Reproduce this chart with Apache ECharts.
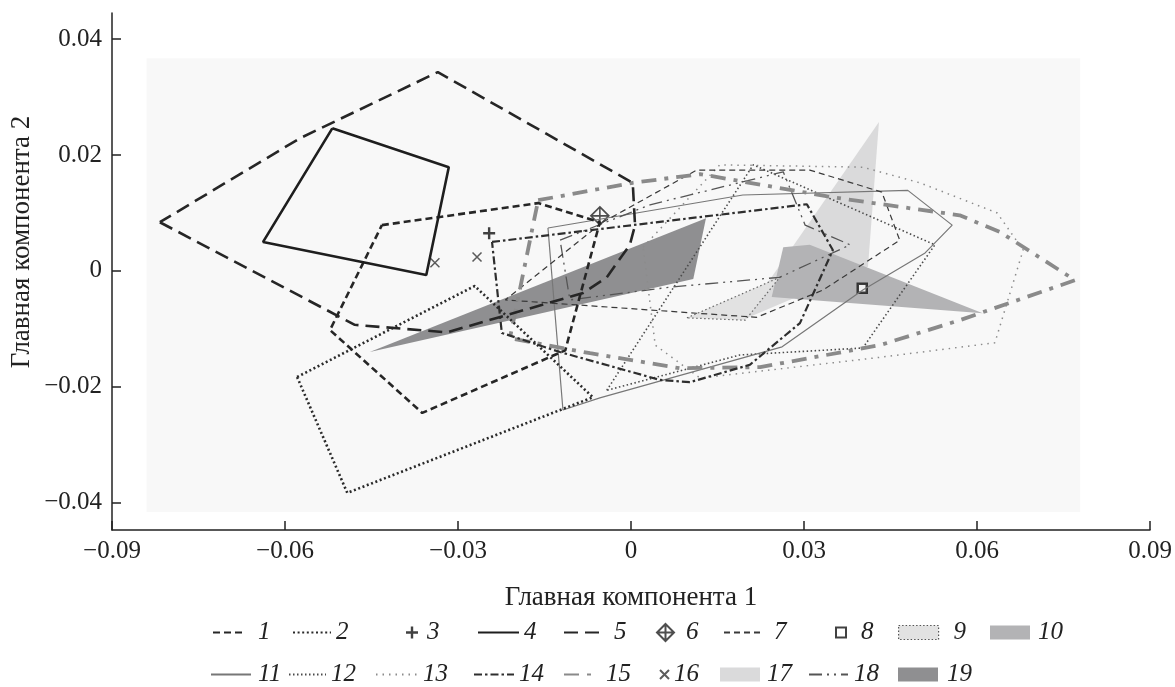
<!DOCTYPE html>
<html>
<head>
<meta charset="utf-8">
<script src="https://cdn.jsdelivr.net/npm/echarts@6/dist/echarts.min.js"></script>
<style>
html, body { margin: 0; background: #fff; }
#chart { width: 1175px; height: 687px; }
</style>
</head>
<body>
<div id="chart"></div>
<script>
// tick labels
const xTicks = [-0.09, -0.06, -0.03, 0, 0.03, 0.06, 0.09]
const yTicks = [-0.04, -0.02, 0, 0.02, 0.04]

// group contours (principal component 1 / 2)
const x1 = [-0.0432, -0.0161, -0.0054, -0.0114, -0.0362, -0.0522]
const y1 = [0.0079, 0.0117, 0.0084, -0.0137, -0.0245, -0.0102]
const x2 = [-0.0579, -0.0271, -0.0066, -0.0492]
const y2 = [-0.0183, -0.0026, -0.0218, -0.0383]
const x3 = [-0.0246]
const y3 = [0.0065]
const x4 = [-0.0518, -0.0316, -0.0355, -0.0638]
const y4 = [0.0246, 0.0179, -0.0007, 0.0050]
const x5 = [-0.0817, -0.0479, -0.0319, -0.0083, -0.0042, -0.0002, 0.0007, 0.0003, -0.0335, -0.0574]
const y5 = [0.0084, -0.0093, -0.0106, -0.0038, -0.0011, 0.0045, 0.0079, 0.0152, 0.0343, 0.0229]
const x6 = [-0.0054]
const y6 = [0.0095]
const x7 = [-0.0049, 0.0114, 0.0310, 0.0435, 0.0466, 0.0333, 0.0218, 0.0114, -0.0218]
const y7 = [0.0084, 0.0174, 0.0174, 0.0136, 0.0053, -0.0033, -0.0080, -0.0073, -0.0050]
const x8 = [0.0401]
const y8 = [-0.0030]
const x9 = [0.0097, 0.0258, 0.0198]
const y9 = [-0.0081, -0.0011, -0.0085]
const x10 = [0.0264, 0.0310, 0.0610, 0.0244]
const y10 = [0.0041, 0.0045, -0.0073, -0.0045]
const x11 = [-0.0144, 0.0194, 0.0480, 0.0557, 0.0510, 0.0402, 0.0262, -0.0054, -0.0118]
const y11 = [0.0074, 0.0131, 0.0139, 0.0079, 0.0031, -0.0033, -0.0131, -0.0219, -0.0240]
const x12 = [-0.0042, 0.0212, 0.0527, 0.0432, 0.0402, 0.0189]
const y12 = [-0.0206, 0.0183, 0.0045, -0.0090, -0.0133, -0.0145]
const x13 = [0.0021, 0.0154, 0.0402, 0.0501, 0.0635, 0.0680, 0.0631, 0.0432, 0.0120, 0.0042]
const y13 = [0.0041, 0.0183, 0.0179, 0.0152, 0.0100, 0.0036, -0.0124, -0.0149, -0.0185, -0.0128]
const x14 = [-0.0241, 0.0305, 0.0350, 0.0293, 0.0206, 0.0102, 0.0050, -0.0123, -0.0224]
const y14 = [0.0050, 0.0115, 0.0036, -0.0090, -0.0162, -0.0192, -0.0188, -0.0140, -0.0107]
const x15 = [-0.0161, 0.0003, 0.0120, 0.0350, 0.0570, 0.0640, 0.0770, 0.0570, 0.0432, 0.0224, 0.0085, -0.0071, -0.0210]
const y15 = [0.0122, 0.0152, 0.0167, 0.0127, 0.0096, 0.0067, -0.0016, -0.0085, -0.0128, -0.0166, -0.0168, -0.0142, -0.0116]
const x16 = [-0.0340, -0.0267]
const y16 = [0.0014, 0.0024]
const x17 = [0.0430, 0.0411, 0.0192]
const y17 = [0.0257, 0.0007, -0.0085]
const x18 = [-0.0123, 0.0033, 0.0264, 0.0302, 0.0380, 0.0258, 0.0068, -0.0106]
const y18 = [0.0053, 0.0114, 0.0171, 0.0079, 0.0045, -0.0011, -0.0028, -0.0050]
const x19 = [-0.0453, 0.0130, 0.0108]
const y19 = [-0.0140, 0.0091, -0.0014]

const FONT = 'Liberation Serif'
const zip = (xs, ys) => xs.map((x, i) => [x, ys[i]])
const closed = (xs, ys) => zip(xs, ys).concat([[xs[0], ys[0]]])

function contour(name, xs, ys, color, width, dash) {
  return {
    name,
    type: 'line',
    data: closed(xs, ys),
    symbol: 'none',
    silent: true,
    lineStyle: { color, width, type: dash || 'solid' },
    itemStyle: { color }
  }
}

function patch(name, xs, ys, color, border) {
  return {
    name,
    type: 'custom',
    data: zip(xs, ys),
    silent: true,
    itemStyle: { color },
    renderItem(params, api) {
      if (params.dataIndex !== 0) return null
      const points = xs.map((x, i) => api.coord([x, ys[i]]))
      const style = { fill: color }
      if (border) {
        style.stroke = border
        style.lineWidth = 1.2
        style.lineDash = [1.5, 2.5]
      }
      return { type: 'polygon', shape: { points }, style }
    }
  }
}

function marker(name, xs, ys, symbol, size, itemStyle) {
  return {
    name,
    type: 'scatter',
    data: zip(xs, ys),
    symbol,
    symbolSize: size,
    silent: true,
    itemStyle
  }
}

// legend placement: name, left, row, icon width, icon height, extra text gap
const legendLayout = [
  ['1', 212, 0, 30, 14, 10], ['2', 292, 0, 38, 14, 0], ['3', 406, 0, 12, 12, 4],
  ['4', 477, 0, 41, 14, 0], ['5', 563, 0, 37, 14, 8], ['6', 656, 0, 17, 17, 7],
  ['7', 723, 0, 37, 14, 8], ['8', 835, 0, 10, 10, 10], ['9', 898, 0, 40, 14, 10],
  ['10', 990, 0, 40, 14, 3],
  ['11', 210, 1, 40, 14, 2], ['12', 288, 1, 37, 14, 0], ['13', 375, 1, 42, 14, 0],
  ['14', 473, 1, 40, 14, 0], ['15', 563, 1, 30, 14, 7], ['16', 659, 1, 9, 9, 0],
  ['17', 720, 1, 40, 14, 2], ['18', 808, 1, 39, 14, 1], ['19', 898, 1, 40, 14, 4]
]
const rowTop = [620, 662]
const patchNames = ['9', '10', '17', '19']
const markerNames = ['3', '6', '8', '16']

const legends = legendLayout.map(([name, left, row, w, h, gap]) => {
  const item = { name }
  if (name === '9') {
    item.itemStyle = { color: '#e2e2e2', borderColor: '#555', borderWidth: 1.2, borderType: [1.5, 2] }
  } else if (!patchNames.includes(name) && !markerNames.includes(name)) {
    // line series: keep only the line sample, hide the default symbol
    item.itemStyle = { color: 'rgba(0,0,0,0)', borderColor: 'rgba(0,0,0,0)', borderWidth: 0, opacity: 0 }
  }
  return {
    data: [item],
    left,
    top: rowTop[row],
    itemWidth: w,
    itemHeight: h,
    icon: patchNames.includes(name) ? 'rect' : undefined,
    selectedMode: false,
    padding: 0,
    textStyle: {
      fontFamily: FONT,
      fontStyle: 'italic',
      fontSize: 25,
      color: '#222',
      padding: [0, 0, 0, gap]
    }
  }
})

const tickFmt = (v) => (v === 0 ? '0' : v.toFixed(2).replace('-', '\u2212'))

const option = {
  animation: false,
  backgroundColor: '#fff',
  grid: { left: 112, right: 25, top: 13, bottom: 157, outerBoundsMode: 'none' },
  legend: legends,
  graphic: [{
    type: 'text',
    x: 22,
    y: 242,
    rotation: Math.PI / 2,
    style: {
      text: 'Главная компонента 2',
      fontFamily: FONT,
      fontSize: 27,
      fill: '#222',
      align: 'center',
      verticalAlign: 'middle'
    }
  }],
  xAxis: {
    type: 'value',
    min: -0.09,
    max: 0.09,
    interval: 0.03,
    name: 'Главная компонента 1',
    nameLocation: 'middle',
    nameGap: 54,
    nameTextStyle: { fontFamily: FONT, fontSize: 27, color: '#222' },
    axisLine: { onZero: false, lineStyle: { color: '#222', width: 1.5 } },
    axisTick: { inside: true, length: 9, lineStyle: { color: '#222', width: 1.5 }, customValues: xTicks },
    axisLabel: { customValues: xTicks, formatter: tickFmt, fontFamily: FONT, fontSize: 25, color: '#222', margin: 9 },
    splitLine: { show: false }
  },
  yAxis: {
    type: 'value',
    min: -0.0447,
    max: 0.0445,
    axisLine: { show: true, onZero: false, lineStyle: { color: '#222', width: 1.5 } },
    axisTick: { show: true, inside: true, length: 9, lineStyle: { color: '#222', width: 1.5 }, customValues: yTicks },
    axisLabel: { customValues: yTicks, formatter: tickFmt, fontFamily: FONT, fontSize: 25, color: '#222', margin: 10 },
    splitLine: { show: false }
  },
  series: [
    {
      name: 'bg',
      type: 'line',
      data: [],
      z: 0,
      silent: true,
      markArea: {
        silent: true,
        itemStyle: { color: '#f8f8f8' },
        data: [[{ coord: [-0.0840, 0.0367] }, { coord: [0.0779, -0.0416] }]]
      }
    },
    patch('17', x17, y17, '#dadadb'),
    patch('10', x10, y10, '#b3b3b5'),
    patch('19', x19, y19, '#8f8f91'),
    patch('9', x9, y9, '#e2e2e2', '#666'),
    contour('13', x13, y13, '#8c8c8c', 1.5, [1.5, 5]),
    contour('12', x12, y12, '#4a4a4a', 1.6, [1.5, 2.5]),
    contour('11', x11, y11, '#777', 1.2),
    contour('18', x18, y18, '#555', 1.3, [13, 5, 2, 5, 2, 5]),
    contour('7', x7, y7, '#3a3a3a', 1.2, [6, 4]),
    contour('15', x15, y15, '#8a8a8a', 3.8, [15, 8, 4, 8]),
    contour('14', x14, y14, '#2e2e2e', 2.2, [8, 3, 2.5, 3]),
    contour('2', x2, y2, '#2a2a2a', 2.6, [2, 2.6]),
    contour('1', x1, y1, '#262626', 2.6, [7, 4]),
    contour('5', x5, y5, '#262626', 2.6, [14, 7]),
    contour('4', x4, y4, '#1e1e1e', 2.6),
    marker('3', x3, y3, 'path://M4,0H6V4H10V6H6V10H4V6H0V4H4Z', 12, { color: '#111' }),
    marker('6', x6, y6, 'path://M10,0L20,10L10,20L0,10Z M10,0L10,20 M0,10L20,10', 18,
      { color: 'rgba(255,255,255,0)', borderColor: '#222', borderWidth: 1.6 }),
    marker('8', x8, y8, 'rect', 9, { color: '#fff', borderColor: '#111', borderWidth: 2.5 }),
    marker('16', x16, y16, 'path://M0,0L10,10M10,0L0,10', 9,
      { color: 'rgba(255,255,255,0)', borderColor: '#333', borderWidth: 1.5 })
  ]
}

const myChart = echarts.init(document.getElementById('chart'))
myChart.setOption(option)
window.onresize = myChart.resize
</script>
</body>
</html>
